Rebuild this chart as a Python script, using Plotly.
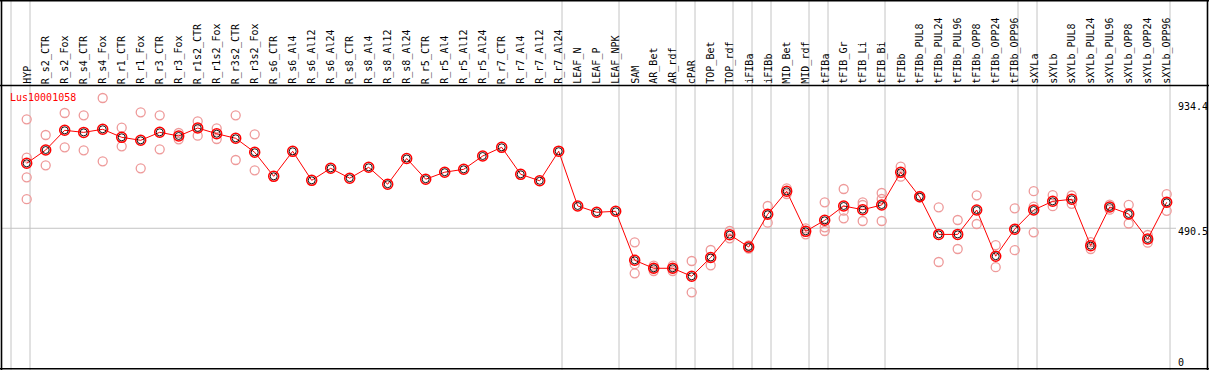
import plotly.graph_objects as go

categories = ["HYP", "R_s2_CTR", "R_s2_Fox", "R_s4_CTR", "R_s4_Fox", "R_r1_CTR", "R_r1_Fox",
              "R_r3_CTR", "R_r3_Fox", "R_r1s2_CTR", "R_r1s2_Fox", "R_r3s2_CTR", "R_r3s2_Fox",
              "R_s6_CTR", "R_s6_Al4", "R_s6_Al12", "R_s6_Al24", "R_s8_CTR", "R_s8_Al4",
              "R_s8_Al12", "R_s8_Al24", "R_r5_CTR", "R_r5_Al4", "R_r5_Al12", "R_r5_Al24",
              "R_r7_CTR", "R_r7_Al4", "R_r7_Al12", "R_r7_Al24", "LEAF_N", "LEAF_P", "LEAF_NPK",
              "SAM", "AR_Bet", "AR_rdf", "cPAR", "TOP_Bet", "TOP_rdf", "iFIBa", "iFIBb",
              "MID_Bet", "MID_rdf", "tFIBa", "tFIB_Gr", "tFIB_Li", "tFIB_Bi", "tFIBb",
              "tFIBb_PUL8", "tFIBb_PUL24", "tFIBb_PUL96", "tFIBb_OPP8", "tFIBb_OPP24",
              "tFIBb_OPP96", "sXYLa", "sXYLb", "sXYLb_PUL8", "sXYLb_PUL24", "sXYLb_PUL96",
              "sXYLb_OPP8", "sXYLb_OPP24", "sXYLb_OPP96"]

means = [721.2, 768.4, 838.4, 831.0, 842.0, 813.5, 802.9, 831.3, 818.2, 846.6, 826.3, 810.0,
         760.3, 675.0, 763.8, 660.8, 703.5, 668.3, 707.0, 647.0, 738.3, 664.7, 689.6, 699.9,
         747.1, 778.0, 682.1, 659.1, 764.2, 569.6, 547.2, 550.8, 376.8, 348.4, 348.4, 320.0,
         386.7, 467.7, 424.0, 540.1, 621.8, 479.7, 518.8, 569.6, 556.4, 573.1, 689.2, 602.3,
         468.7, 468.7, 555.4, 391.3, 487.2, 555.4, 586.3, 593.4, 428.6, 566.0, 541.2, 452.4,
         582.7]

replicates = [
    [877.5, 741.1, 671.5, 593.7], [821.7, 714.1], [899.8, 778.0], [891.7, 767.4],
    [953.1, 728.3], [847.6, 781.6], [902.3, 703.5], [891.7, 770.9], [828.8, 806.4],
    [870.4, 819.2], [845.5, 807.5], [891.7, 732.9], [824.2, 696.3],
    [], [], [], [], [], [], [], [], [], [], [], [], [], [], [], [], [], [], [],
    [440.7, 362.9, 330.6], [357.6, 348.4, 338.8], [357.6, 348.4, 338.8], [374.3, 263.1],
    [413.3, 359.0], [480.8, 454.9], [430.0, 418.0], [569.6, 510.3], [632.4, 612.2],
    [490.4, 469.1], [582.7, 493.9, 480.8], [629.9, 552.9, 525.9], [582.7, 573.1, 516.3],
    [615.7, 594.4, 516.3], [709.1, 673.6], [605.0, 600.0], [565.0, 370.7], [519.9, 416.9],
    [607.6, 505.7], [430.4, 352.3], [561.4, 412.6], [622.1, 567.1, 476.2], [607.9, 568.9],
    [606.9, 577.4], [441.0, 416.9], [574.2, 556.4], [573.8, 507.4], [466.6, 439.3],
    [611.5, 552.5],
]

gene_name = "Lus10001058"
axis_values = [934.4, 490.5, 0]
axis_labels = ["934.4", "490.5", "0"]
grid_value = 490.5
# group separators: placed after these category indices
separators_after = [-1, 0, 28, 31, 34, 35, 37, 38, 39, 41, 42, 45, 52, 53, 60]

W, H = 1209, 370
STEP = 19.0
X0 = -26.7 / STEP
X1 = X0 + W / STEP
Y0, Y1 = -12.8, 1301.1
FONT = "DejaVu Sans Mono"


def px_x(p):
    return p / W


def px_y(p):
    return 1 - p / H


idx = list(range(len(categories)))
rep_x, rep_y = [], []
for i, reps in enumerate(replicates):
    for v in reps:
        rep_x.append(i)
        rep_y.append(v)

fig = go.Figure()
fig.add_trace(go.Scatter(x=rep_x, y=rep_y, mode="markers", hoverinfo="skip",
                         marker=dict(symbol="circle-open", size=9, color="#ee9a9a",
                                     line=dict(width=1.3, color="#ee9a9a"))))
fig.add_trace(go.Scatter(x=idx, y=means, mode="lines",
                         line=dict(color="#ff0000", width=1)))
fig.add_trace(go.Scatter(x=idx, y=means, mode="markers",
                         marker=dict(symbol="circle-open", size=10, color="#ff0000",
                                     line=dict(width=1.5, color="#ff0000"))))
fig.add_trace(go.Scatter(x=idx, y=means, mode="markers",
                         marker=dict(symbol="circle-open", size=7, color="#000000",
                                     line=dict(width=0.9, color="#000000"))))

shapes = []
for s in separators_after:
    xs = s + 1 - 15.7 / STEP
    shapes.append(dict(type="line", xref="x", yref="paper", x0=xs, x1=xs, y0=0, y1=1,
                       line=dict(color="#c4c4c4", width=1), layer="below"))
shapes.append(dict(type="line", xref="paper", yref="y", x0=px_x(1), x1=px_x(1176),
                   y0=grid_value, y1=grid_value, line=dict(color="#c4c4c4", width=1),
                   layer="below"))
# header separator
shapes.append(dict(type="line", xref="paper", yref="paper", x0=0, x1=1,
                   y0=px_y(85.5), y1=px_y(85.5), line=dict(color="#000000", width=1.5)))
# frame
for (a, b, c, d) in [(1.5, 1.5, 0, H), (1207.5, 1207.5, 0, H), (0, W, 0.6, 0.6), (0, W, 368.8, 368.8)]:
    shapes.append(dict(type="line", xref="paper", yref="paper", x0=px_x(a), x1=px_x(b),
                       y0=px_y(c), y1=px_y(d), line=dict(color="#000000", width=1.6)))

annotations = []
for i, c in enumerate(categories):
    annotations.append(dict(x=i, y=px_y(85), xref="x", yref="paper", text=c, textangle=-90,
                            showarrow=False, xanchor="center", yanchor="bottom",
                            font=dict(family=FONT, size=10, color="#000000"),
                            borderpad=0))
annotations.append(dict(x=px_x(9), y=px_y(97), xref="paper", yref="paper", text=gene_name,
                        showarrow=False, xanchor="left", yanchor="middle", borderpad=0,
                        font=dict(family=FONT, size=10, color="#ff0000")))
shifts = [-3.7, -3.7, 4.4]
for v, t, sh in zip(axis_values, axis_labels, shifts):
    annotations.append(dict(x=px_x(1177), y=v, xref="paper", yref="y", text=t, yshift=sh,
                            showarrow=False, xanchor="left", yanchor="middle", borderpad=0,
                            font=dict(family=FONT, size=10, color="#000000")))

fig.update_layout(width=W, height=H, margin=dict(l=0, r=0, t=0, b=0),
                  paper_bgcolor="white", plot_bgcolor="white", showlegend=False,
                  xaxis=dict(range=[X0, X1], visible=False, showgrid=False, zeroline=False),
                  yaxis=dict(range=[Y0, Y1], visible=False, showgrid=False, zeroline=False),
                  shapes=shapes, annotations=annotations)

fig.write_html("out.html", config={"displayModeBar": False},
               post_script="document.body.style.margin='0';document.body.style.overflow='hidden';")
